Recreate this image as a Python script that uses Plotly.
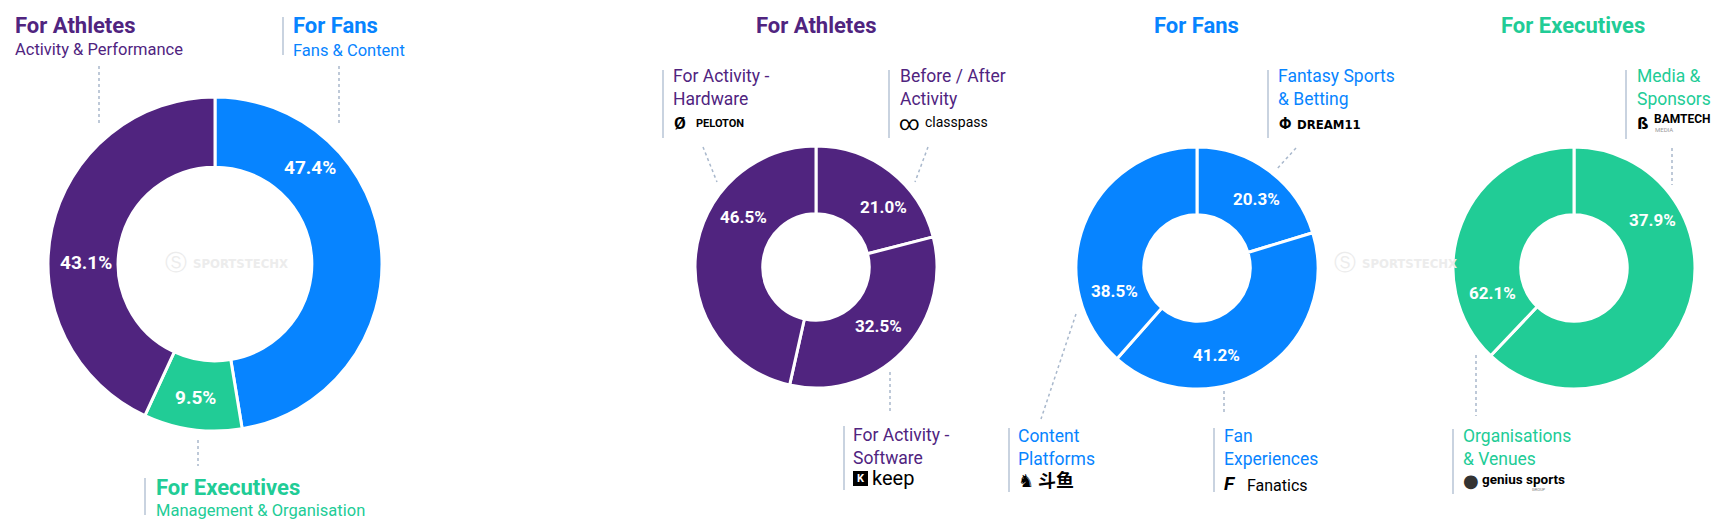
import plotly.graph_objects as go

W, H = 1722, 526
# the page body keeps its default 8px margin, so shift everything back by it
OX, OY = 8, 8

PURPLE = "#50247f"
BLUE = "#0784ff"
GREEN = "#21cc96"
BAR = "#c9d3e0"
DOTS = "#a9b8cc"
FONT = "Roboto"

# every donut runs clockwise from 12 o'clock
overview_labels = ["For Fans", "For Executives", "For Athletes"]
overview_values = [47.4, 9.5, 43.1]

athletes_labels = ["Before / After Activity", "For Activity - Software", "For Activity - Hardware"]
athletes_values = [21.0, 32.5, 46.5]

fans_labels = ["Fantasy Sports & Betting", "Fan Experiences", "Content Platforms"]
fans_values = [20.3, 41.2, 38.5]

exec_labels = ["Organisations & Venues", "Media & Sponsors"]
exec_values = [62.1, 37.9]


def px(x, y):
    return (x - OX) / W, 1 - (y - OY) / H


def domain(cx, cy, r):
    x0, y0 = px(cx - r, cy + r)
    x1, y1 = px(cx + r, cy - r)
    return dict(x=[x0, x1], y=[y0, y1])


fig = go.Figure()

pies = [
    (overview_labels, overview_values, [BLUE, GREEN, PURPLE], (215, 264, 167), 0.58),
    (athletes_labels, athletes_values, [PURPLE] * 3, (816, 267, 121), 0.44),
    (fans_labels, fans_values, [BLUE] * 3, (1197, 268, 121), 0.44),
    (exec_labels, exec_values, [GREEN] * 2, (1574, 268, 121), 0.44),
]
for labels, values, colors, (cx, cy, r), hole in pies:
    fig.add_trace(go.Pie(
        labels=labels, values=values, hole=hole, sort=False,
        direction="clockwise", rotation=0, textinfo="none",
        marker=dict(colors=colors, line=dict(color="white", width=3)),
        domain=domain(cx, cy, r), hovertemplate="%{label}: %{value}%<extra></extra>",
    ))

ann = []


def text(x, y, s, size, color, anchor="left", bold=False, family=FONT, yanchor="middle"):
    xx, yy = px(x, y)
    ann.append(dict(
        x=xx, y=yy, xref="paper", yref="paper", text=f"<b>{s}</b>" if bold else s,
        showarrow=False, xanchor=anchor, yanchor=yanchor, align="left",
        font=dict(family=family, size=size, color=color),
    ))


shapes = []


def line(x0, y0, x1, y1, color, width, dash="solid"):
    a, b = px(x0, y0)
    c, d = px(x1, y1)
    shapes.append(dict(type="line", xref="paper", yref="paper", x0=a, y0=b, x1=c, y1=d,
                       line=dict(color=color, width=width, dash=dash)))


# percentage labels (placed where the source places them)
pct_positions = [
    (overview_values, [(310, 167), (195, 397), (86, 262)], 19),
    (athletes_values, [(883, 207), (879, 326), (743, 217)], 17),
    (fans_values, [(1256, 199), (1216, 355), (1114, 291)], 17),
    (exec_values, [(1492, 293), (1652, 220)], 17),
]
for values, pos, size in pct_positions:
    for v, (x, y) in zip(values, pos):
        text(x, y, f"{v:.1f}%", size, "white", anchor="center", bold=True)

# overview headers
text(13, 26, "For Athletes", 22, PURPLE, bold=True)
text(13, 49, "Activity & Performance", 16.5, PURPLE)
line(5, 17, 5, 55, BAR, 2)
line(99, 66, 99, 124, DOTS, 1.5, "dot")

text(291, 26, "For Fans", 22, BLUE, bold=True)
text(291, 50, "Fans & Content", 16.5, BLUE)
line(283, 17, 283, 55, BAR, 2)
line(339, 66, 339, 124, DOTS, 1.5, "dot")

text(154, 487, "For Executives", 22, GREEN, bold=True)
text(154, 510, "Management & Organisation", 16.5, GREEN)
line(145, 478, 145, 515, BAR, 2)
line(198, 440, 198, 466, DOTS, 1.5, "dot")

# sub-chart titles
text(816, 25, "For Athletes", 22, PURPLE, anchor="center", bold=True)
text(1196, 25, "For Fans", 22, BLUE, anchor="center", bold=True)
text(1573, 25, "For Executives", 22, GREEN, anchor="center", bold=True)

# athletes categories
text(671, 88, "For Activity -<br>Hardware", 17.5, PURPLE)
line(663, 70, 663, 138, BAR, 2)
text(672, 123, "<b>Ø</b>", 17, "black")
text(694, 123, "<b>PELOTON</b>", 11, "black")
line(703, 147, 717, 182, DOTS, 1.5, "dot")

text(898, 88, "Before / After<br>Activity", 17.5, PURPLE)
line(889, 70, 889, 138, BAR, 2)
text(897, 123, "∞", 20, "black")
text(923, 122, "classpass", 14, "black")
line(928, 147, 915, 182, DOTS, 1.5, "dot")

text(851, 446, "For Activity -<br>Software", 17.5, PURPLE)
line(844, 426, 844, 490, BAR, 2)
k0, k1 = px(853, 471), px(868, 486)
shapes.append(dict(type="rect", xref="paper", yref="paper", x0=k0[0], y0=k0[1], x1=k1[0], y1=k1[1],
                   fillcolor="black", line=dict(width=0)))
text(860.5, 478.5, "<b>K</b>", 11, "white", anchor="center")
text(870, 478, "keep", 20, "black")
line(890, 372, 890, 412, DOTS, 1.5, "dot")

# fans categories
text(1276, 88, "Fantasy Sports<br>& Betting", 17.5, BLUE)
line(1268, 70, 1268, 138, BAR, 2)
text(1277, 123, "<b>Φ</b>", 16, "black")
text(1295, 124, "<b>DREAM11</b>", 13, "black", family="DejaVu Sans Condensed")
line(1296, 148, 1276, 170, DOTS, 1.5, "dot")

text(1016, 447, "Content<br>Platforms", 17.5, BLUE)
line(1009, 428, 1009, 492, BAR, 2)
text(1016, 480, "<b>♞</b>", 18, "black", family="DejaVu Sans")
text(1036, 479, "<b>斗鱼</b>", 18, "black", family="Noto Sans CJK SC")
line(1076, 314, 1041, 419, DOTS, 1.5, "dot")

text(1222, 447, "Fan<br>Experiences", 17.5, BLUE)
line(1214, 428, 1214, 492, BAR, 2)
text(1222, 483, "<b><i>F</i></b>", 19, "black")
text(1245, 485, "Fanatics", 16, "black")
line(1224, 391, 1224, 413, DOTS, 1.5, "dot")

# executives categories
text(1635, 88, "Media &<br>Sponsors", 17.5, GREEN)
line(1626, 70, 1626, 139, BAR, 2)
text(1635, 123, "<b>ß</b>", 16, "black", family="DejaVu Sans")
text(1652, 119, "<b>BAMTECH</b>", 12, "black")
text(1653, 130, "MEDIA", 6, "#999999")
line(1672, 148, 1672, 185, DOTS, 1.5, "dot")

text(1461, 447, "Organisations<br>& Venues", 17.5, GREEN)
line(1453, 429, 1453, 494, BAR, 2)
text(1461, 480, "●", 18, "#333333", family="DejaVu Sans")
text(1480, 479, "<b>genius sports</b>", 13.5, "black")
text(1530, 489, "GROUP", 4, "#777777")
line(1476, 355, 1476, 416, DOTS, 1.5, "dot")

# watermarks
for wx in (163, 1332):
    text(wx, 262, "Ⓢ", 22, "#ececec", family="DejaVu Sans")
    text(wx + 28, 263, "<b>SPORTSTECHX</b>", 13, "#ececec", family="DejaVu Sans Condensed")

fig.update_layout(
    width=W, height=H,
    margin=dict(l=0, r=0, t=0, b=0),
    paper_bgcolor="white", plot_bgcolor="white",
    showlegend=False,
    annotations=ann, shapes=shapes,
    font=dict(family=FONT),
)

fig.write_html("out.html")
